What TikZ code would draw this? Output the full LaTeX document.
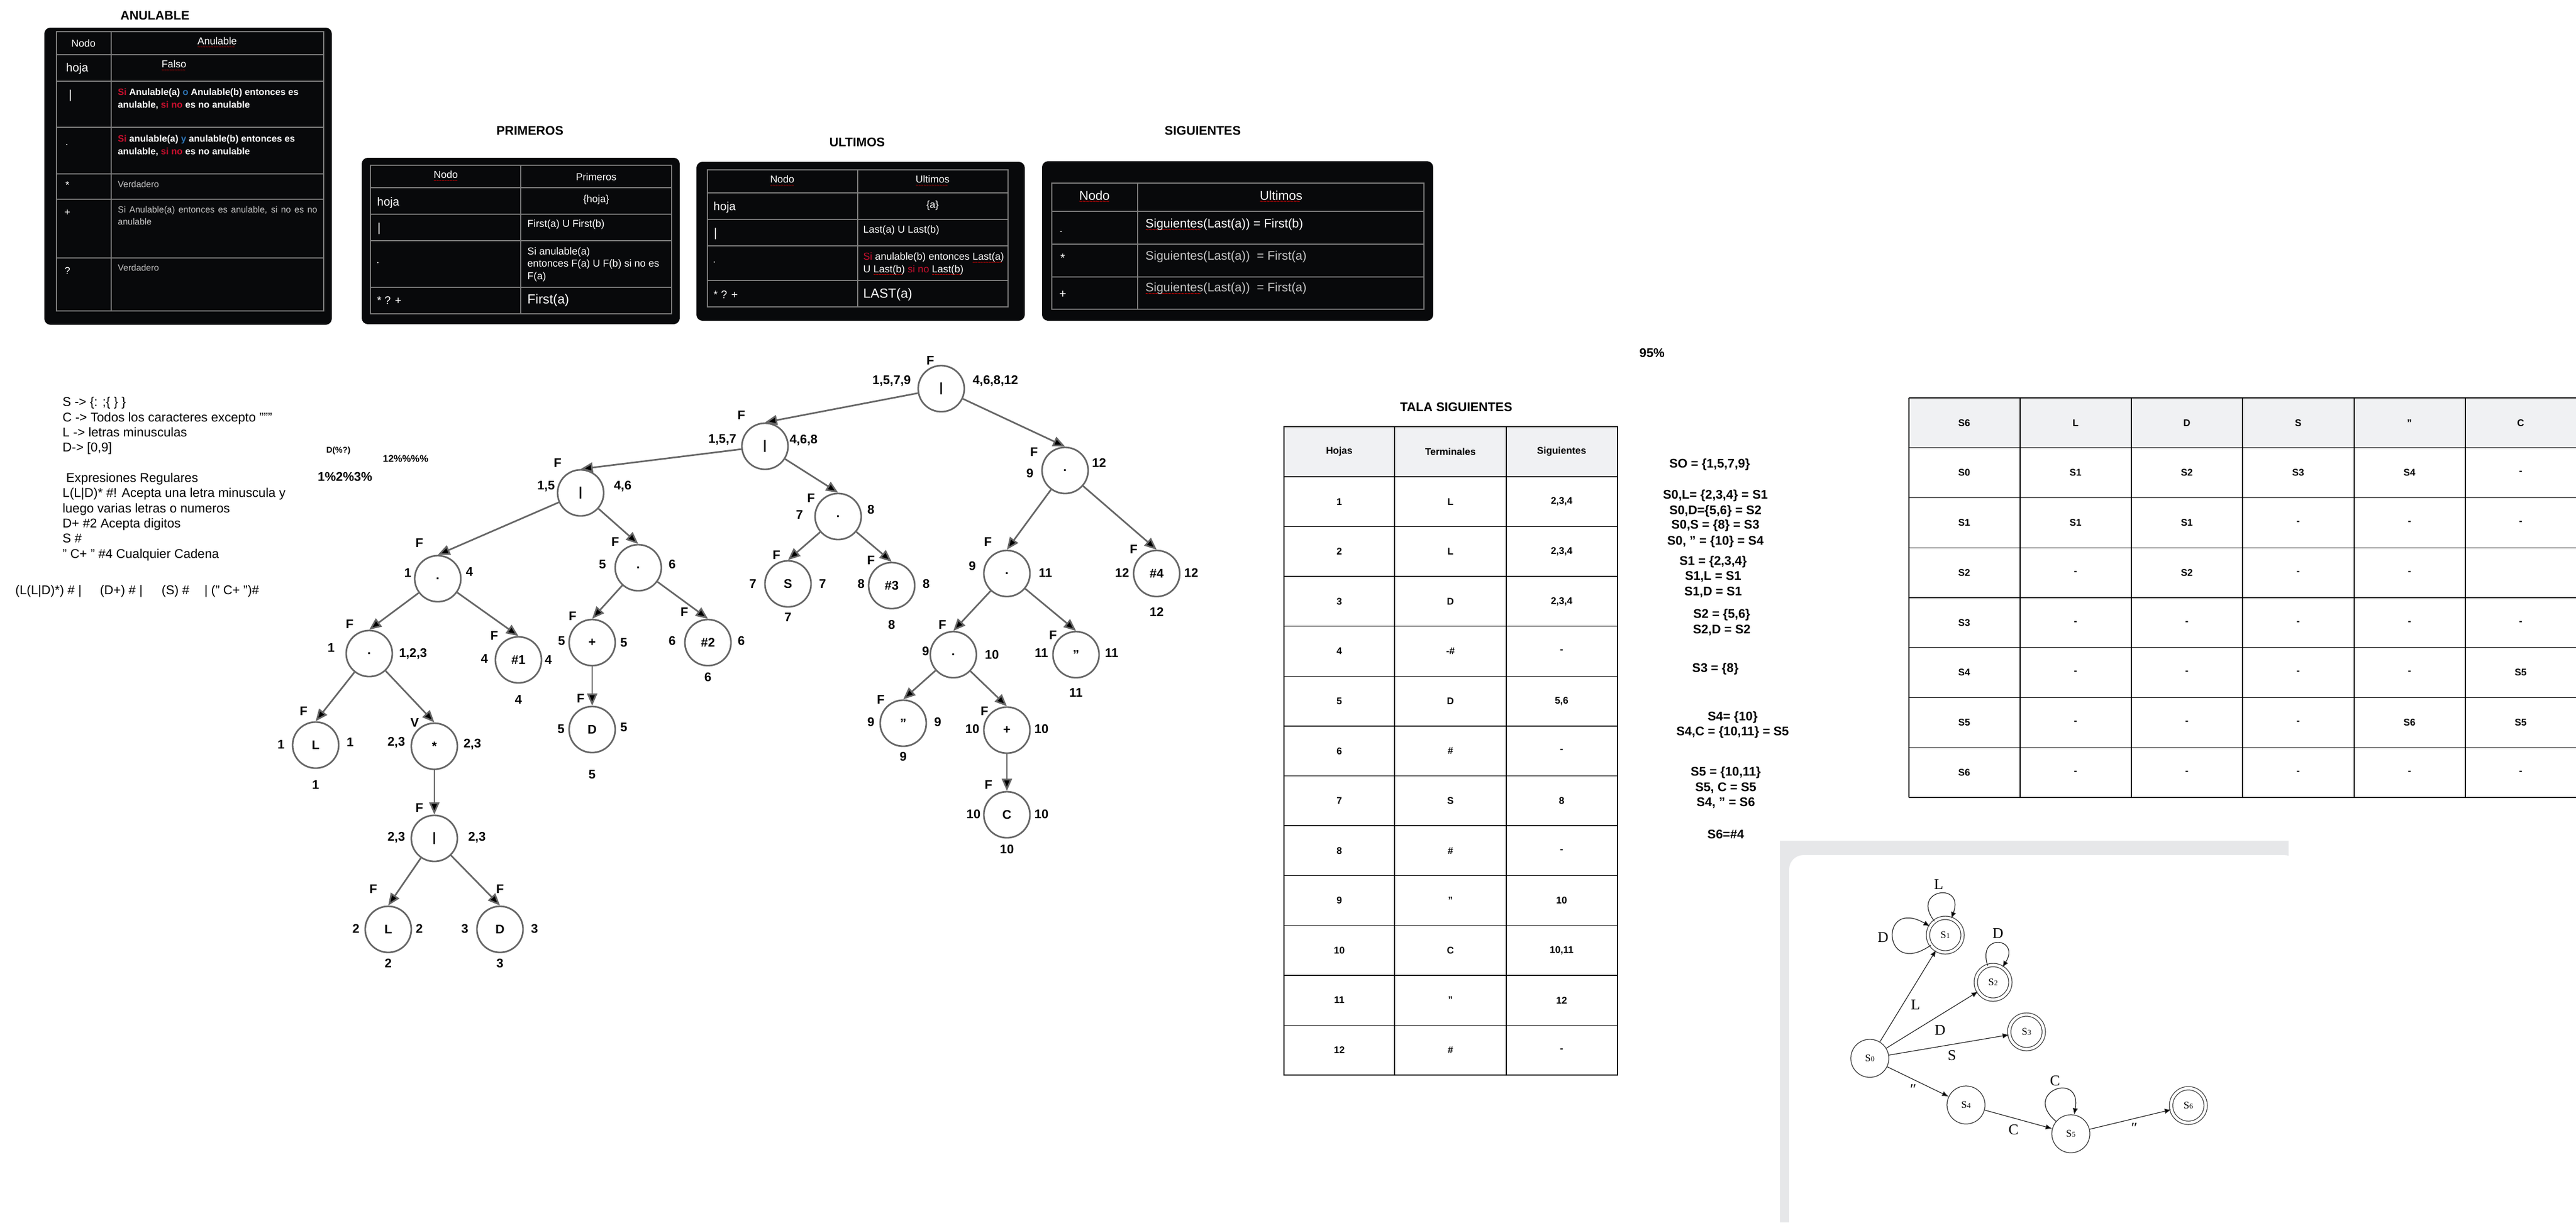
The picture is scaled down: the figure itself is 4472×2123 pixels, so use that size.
\documentclass[tikz,border=0pt]{standalone}
\usepackage{fontspec}
\setmainfont{Liberation Sans}
\newfontfamily\autfont{Liberation Serif}
\usetikzlibrary{arrows.meta}

\definecolor{panelbg}{HTML}{08090B}
\definecolor{gridgray}{HTML}{7C7C7C}
\definecolor{sired}{HTML}{C8102E}
\definecolor{oblue}{HTML}{2E75B6}
\definecolor{dimgray}{HTML}{C4C4C4}
\definecolor{edgegray}{HTML}{666666}
\definecolor{headgray}{HTML}{F0F1F3}
\definecolor{framegray}{HTML}{E6E7E9}

\newcommand\fs[2]{\fontsize{#1}{#2}\selectfont}
\newcommand\rd[1]{\textcolor{sired}{#1}}
\newcommand\sn[1]{S{\fs{3.6}{4}#1}}
\newsavebox\spellbox
\newcommand\spell[1]{\sbox\spellbox{#1}\rlap{\raisebox{-2.2pt}{\textcolor{red}{\leaders\hbox{\scalebox{0.45}[0.6]{\char"007E}}\hskip\wd\spellbox}}}\usebox\spellbox}

\begin{document}
\begin{tikzpicture}[x=0.01cm,y=-0.01cm]
\tikzstyle{vertex}=[circle,draw=edgegray,line width=0.8pt,minimum size=0.8cm,inner sep=0pt,font=\bfseries\fs{6.2}{7}]
\tikzstyle{lab}=[inner sep=0pt,font=\bfseries\fs{6.2}{7}]
\tikzstyle{txt}=[inner sep=0pt,font=\fs{6.3}{7.5}]
\tikzstyle{btxt}=[inner sep=0pt,font=\bfseries\fs{6.2}{7.5}]
\tikzstyle{tarrow}=[draw=edgegray,line width=0.8pt,-{Triangle[length=6pt,width=5pt]}]
\tikzstyle{panel}=[fill=panelbg,rounded corners=3pt]
\tikzstyle{dgrid}=[draw=gridgray,line width=0.6pt]
\tikzstyle{wcell}=[inner sep=0pt,text=white,font=\fs{5}{6}]
\tikzstyle{gcell}=[inner sep=0pt,text=dimgray,font=\fs{4.4}{5.7}]
\tikzstyle{lgrid}=[draw=black,line width=0.4pt]
\tikzstyle{tcell}=[inner sep=0pt,font=\bfseries\fs{4.8}{6}]
\tikzstyle{state}=[circle,draw=black!80,line width=0.35pt,minimum size=0.66cm,inner sep=0pt,font=\autfont\fs{5}{6}]
\tikzstyle{accept}=[state,double,double distance=1.3pt,minimum size=0.6cm]
\tikzstyle{trans}=[draw=black!85,line width=0.35pt,-{Latex[length=3.2pt,width=2.6pt]}]
\tikzstyle{tlab}=[inner sep=0pt,font=\autfont\fs{7.4}{8}]

\useasboundingbox (0,0) rectangle (4472,2123);

% ANULABLE
\node[btxt] (anultit) at (269,27) {ANULABLE};
\fill[panel] (77,48) rectangle (576,564);
\draw[dgrid] (98,55) rectangle (562,540) (193,55) -- (193,540);
\foreach \y in {95,141,221,302,346,448} \draw[dgrid] (98,\y) -- (562,\y);
\node[wcell] (an1) at (145,75) {Nodo};
\node[wcell] (an2) at (377,75) {\spell{Anulable}};
\node[wcell,anchor=west,font=\fs{5.8}{7}] (an3) at (114,119) {hoja};
\node[wcell] (an4) at (302,115) {\spell{Falso}};
\node[wcell,font=\fs{6}{7}] (an5) at (122,166) {|};
\node[wcell,anchor=base west,align=left,font=\bfseries\fs{4.6}{6}] (an6) at (204,187)
  {\rd{Si} Anulable(a) \textcolor{oblue}{o} Anulable(b) entonces es\\anulable, \rd{si no} es no anulable};
\node[wcell] (an7) at (116,252) {.};
\node[wcell,anchor=base west,align=left,font=\bfseries\fs{4.6}{6}] (an8) at (204,268)
  {\rd{Si} anulable(a) \textcolor{oblue}{y} anulable(b) entonces es\\anulable, \rd{si no} es no anulable};
\node[wcell] (an9) at (117,321) {*};
\node[gcell,anchor=west] (an10) at (204,320) {Verdadero};
\node[wcell] (an11) at (117,369) {+};
\node[gcell,anchor=base west,align=left] (an12) at (204,390)
  {\makebox[3.46cm][s]{Si Anulable(a) entonces es anulable, si no es no}\\anulable};
\node[wcell] (an13) at (117,470) {?};
\node[gcell,anchor=west] (an14) at (204,465) {Verdadero};

% PRIMEROS
\node[btxt] (primtit) at (920,227) {PRIMEROS};
\fill[panel] (628,274) rectangle (1180,563);
\draw[dgrid] (643,287) rectangle (1166,545) (904,287) -- (904,545);
\foreach \y in {326,372,418,499} \draw[dgrid] (643,\y) -- (1166,\y);
\node[wcell] (pr1) at (774,307) {\spell{Nodo}};
\node[wcell] (pr2) at (1035,307) {Primeros};
\node[wcell,anchor=west,font=\fs{5.8}{7}] (pr3) at (654,352) {hoja};
\node[wcell] (pr4) at (1035,347) {\{hoja\}};
\node[wcell,font=\fs{6}{7}] (pr5) at (658,397) {|};
\node[wcell,anchor=west] (pr6) at (915,390) {First(a) U First(b)};
\node[wcell] (pr7) at (656,457) {.};
\node[wcell,anchor=base west,align=left] (pr8) at (915,485) {Si anulable(a)\\entonces F(a) U F(b) si no es\\F(a)};
\node[wcell,anchor=west,font=\fs{5.5}{7}] (pr9) at (654,522) {* ? +};
\node[wcell,anchor=west,font=\fs{6.5}{8}] (pr10) at (915,522) {First(a)};

% ULTIMOS
\node[btxt] (ulttit) at (1488,247) {ULTIMOS};
\fill[panel] (1209,281) rectangle (1779,557);
\draw[dgrid] (1228,295) rectangle (1750,533) (1489,295) -- (1489,533);
\foreach \y in {335,381,427,487} \draw[dgrid] (1228,\y) -- (1750,\y);
\node[wcell] (ul1) at (1358,315) {\spell{Nodo}};
\node[wcell] (ul2) at (1619,315) {\spell{Ultimos}};
\node[wcell,anchor=west,font=\fs{5.8}{7}] (ul3) at (1238,360) {hoja};
\node[wcell] (ul4) at (1619,357) {\{a\}};
\node[wcell,font=\fs{6}{7}] (ul5) at (1242,406) {|};
\node[wcell,anchor=west] (ul6) at (1498,400) {Last(a) U Last(b)};
\node[wcell] (ul7) at (1240,456) {.};
\node[wcell,anchor=base west,align=left] (ul8) at (1498,473)
  {\rd{Si} anulable(b) entonces \spell{Last(a)}\\U \spell{Last(b)} \rd{si no} \spell{Last(b)}};
\node[wcell,anchor=west,font=\fs{5.5}{7}] (ul9) at (1238,512) {* ? +};
\node[wcell,anchor=west,font=\fs{6.5}{8}] (ul10) at (1498,512) {LAST(a)};

% SIGUIENTES
\node[btxt] (sigtit) at (2088,227) {SIGUIENTES};
\fill[panel] (1809,280) rectangle (2488,557);
\draw[dgrid] (1826,318) rectangle (2472,537) (1975,318) -- (1975,537);
\foreach \y in {367,424,481} \draw[dgrid] (1826,\y) -- (2472,\y);
\node[wcell,font=\fs{6.3}{7}] (sg1) at (1900,343) {\spell{Nodo}};
\node[wcell,font=\fs{6.3}{7}] (sg2) at (2224,343) {\spell{Ultimos}};
\node[wcell] (sg3) at (1842,403) {.};
\node[wcell,anchor=west,font=\fs{6.1}{7}] (sg4) at (1988,392) {\spell{Siguientes}(Last(a)) = First(b)};
\node[wcell,font=\fs{6}{7}] (sg5) at (1845,448) {*};
\node[gcell,anchor=west,font=\fs{6.1}{7}] (sg6) at (1988,446) {Siguientes(Last(a))\ \ = First(a)};
\node[wcell,font=\fs{6}{7}] (sg7) at (1845,511) {+};
\node[gcell,anchor=west,font=\fs{6.1}{7}] (sg8) at (1988,503) {\spell{Siguientes}(Last(a))\ \ = First(a)};

% gramatica
\node[txt,anchor=base west,align=left,font=\fs{6.3}{7.48}] (gram) at (108,969)
  {S -> \{: ;\{ \} \}\\C -> Todos los caracteres excepto """\\L -> letras minusculas\\D-> [0,9]\\[7.48pt]
   \ Expresiones Regulares\\L(L|D)* \#! Acepta una letra minuscula y\\luego varias letras o numeros\\D+ \#2 Acepta digitos\\S \#\\" C+ " \#4 Cualquier Cadena};
\node[txt,anchor=west] (regex) at (26,1027) {(L(L|D)*) \# |\hspace{0.32cm}(D+) \# |\hspace{0.33cm}(S) \#\hspace{0.26cm}| (" C+ ")\#};
\node[btxt,anchor=west,font=\bfseries\fs{4.1}{5}] (dpct) at (566,783) {D(\%?)};
\node[btxt,anchor=west,font=\bfseries\fs{4.8}{6}] (pcta) at (664,797) {12\%\%\%\%};
\node[btxt,anchor=west] (pctb) at (551,828) {1\%2\%3\%};
\node[btxt] (pctc) at (2868,613) {95\%};

% arbol
\node[vertex] (t1) at (1634,675) {|};
\node[vertex] (t2) at (1328,775) {|};
\node[vertex] (t3) at (1008,856) {|};
\node[vertex] (t4) at (760,1005) {.};
\node[vertex] (t5) at (641,1135) {.};
\node[vertex] (t6) at (548,1294) {L};
\node[vertex] (t7) at (754,1296) {*};
\node[vertex] (t8) at (754,1456) {|};
\node[vertex] (t9) at (674,1614) {L};
\node[vertex] (t10) at (868,1614) {D};
\node[vertex] (t11) at (900,1146) {\#1};
\node[vertex] (t12) at (1108,986) {.};
\node[vertex] (t13) at (1028,1116) {+};
\node[vertex] (t14) at (1028,1267) {D};
\node[vertex] (t15) at (1229,1116) {\#2};
\node[vertex] (t16) at (1455,897) {.};
\node[vertex] (t17) at (1368,1014) {S};
\node[vertex] (t18) at (1548,1017) {\#3};
\node[vertex] (t19) at (1849,817) {.};
\node[vertex] (t20) at (1748,996) {.};
\node[vertex] (t21) at (2008,996) {\#4};
\node[vertex] (t22) at (1655,1137) {.};
\node[vertex] (t23) at (1868,1137) {"};
\node[vertex] (t24) at (1568,1256) {"};
\node[vertex] (t25) at (1748,1268) {+};
\node[vertex] (t26) at (1748,1415) {C};
\path[tarrow]
  (t1) edge (t2.north)
  (t1) edge (t19.north)
  (t2) edge (t3.north)
  (t2) edge (t16.north)
  (t3) edge (t4.north)
  (t3) edge (t12.north)
  (t4) edge (t5.north)
  (t4) edge (t11.north)
  (t5) edge (t6.north)
  (t5) edge (t7.north)
  (t7) edge (t8.north)
  (t8) edge (t9.north)
  (t8) edge (t10.north)
  (t12) edge (t13.north)
  (t12) edge (t15.north)
  (t13) edge (t14.north)
  (t16) edge (t17.north)
  (t16) edge (t18.north)
  (t19) edge (t20.north)
  (t19) edge (t21.north)
  (t20) edge (t22.north)
  (t20) edge (t23.north)
  (t22) edge (t24.north)
  (t22) edge (t25.north)
  (t25) edge (t26.north);
\foreach \x/\y/\t [count=\i] in {
  1615/626/F, 1548/662/{1,5,7,9}, 1728/662/{4,6,8,12},
  1287/721/F, 1254/764/{1,5,7}, 1395/765/{4,6,8},
  968/804/F, 948/845/{1,5}, 1081/845/{4,6},
  728/943/F, 708/995/1, 815/993/4,
  607/1084/F, 575/1125/1, 717/1136/{1,2,3},
  527/1235/F, 488/1293/1, 608/1289/1, 548/1363/1,
  720/1255/V, 688/1290/{2,3}, 820/1293/{2,3},
  728/1403/F, 688/1455/{2,3}, 828/1455/{2,3},
  648/1544/F, 618/1613/2, 728/1613/2, 674/1673/2,
  868/1544/F, 807/1613/3, 928/1613/3, 868/1673/3,
  858/1104/F, 841/1144/4, 952/1146/4, 900/1215/4,
  1068/941/F, 1046/980/5, 1167/980/6,
  994/1070/F, 975/1113/5, 1083/1116/5,
  1008/1213/F, 974/1266/5, 1083/1263/5, 1028/1345/5,
  1188/1063/F, 1167/1113/6, 1287/1113/6, 1229/1176/6,
  1408/865/F, 1388/894/7, 1512/885/8,
  1348/964/F, 1307/1014/7, 1428/1014/7, 1368/1072/7,
  1512/973/F, 1495/1014/8, 1608/1014/8, 1548/1085/8,
  1795/785/F, 1788/822/9, 1908/804/12,
  1715/941/F, 1688/983/9, 1815/995/11,
  1968/954/F, 1948/995/12, 2068/995/12, 2008/1063/12,
  1636/1085/F, 1607/1131/9, 1722/1137/10,
  1828/1103/F, 1808/1134/11, 1930/1134/11, 1868/1203/11,
  1529/1215/F, 1512/1254/9, 1628/1254/9, 1568/1314/9,
  1709/1235/F, 1688/1266/10, 1808/1266/10,
  1716/1363/F, 1690/1414/10, 1808/1414/10, 1748/1475/10}
  \node[lab] (f\i) at (\x,\y) {\t};

% tabla de siguientes
\node[btxt] (talatit) at (2528,707) {TALA SIGUIENTES};
\fill[headgray] (2229,741) rectangle (2808,828);
\draw[lgrid] (2229,741) rectangle (2808,1867);
\foreach \x in {2421,2615} \draw[lgrid] (\x,741) -- (\x,1867);
\foreach \i in {0,...,11} \draw[lgrid] (2229,{828+86.58*\i}) -- (2808,{828+86.58*\i});
\node[tcell] (hh1) at (2325,784) {Hojas};
\node[tcell] (hh2) at (2518,784) {Terminales};
\node[tcell] (hh3) at (2711,784) {Siguientes};
\foreach \t/\s [count=\i] in {L/{2,3,4},L/{2,3,4},D/{2,3,4},-\#/-,D/{5,6},\#/-,S/8,\#/-,"/10,C/{10,11},"/12,\#/-} {
  \node[tcell] (ha\i) at (2325,{828+86.58*(\i-0.5)}) {\i};
  \node[tcell] (hb\i) at (2518,{828+86.58*(\i-0.5)}) {\t};
  \node[tcell] (hc\i) at (2711,{828+86.58*(\i-0.5)}) {\s};
}

% estados
\foreach \x/\y/\t [count=\i] in {
  2968/807/{SO = \{1,5,7,9\}},
  2978/861/{S0,L= \{2,3,4\} = S1},
  2978/888/{S0,D=\{5,6\} = S2},
  2978/913/{S0,S = \{8\} = S3},
  2978/941/{S0, " = \{10\} = S4},
  2974/976/{S1 = \{2,3,4\}},
  2974/1002/{S1,L = S1},
  2974/1029/{S1,D = S1},
  2989/1068/{S2 = \{5,6\}},
  2989/1095/{S2,D = S2},
  2978/1162/{S3 = \{8\}},
  3008/1246/{S4= \{10\}},
  3008/1272/{S4,C = \{10,11\} = S5},
  2996/1342/{S5 = \{10,11\}},
  2996/1369/{S5, C = S5},
  2996/1395/{S4, " = S6},
  2996/1449/{S6=\#4}}
  \node[btxt,font=\bfseries\fs{6.2}{7}] (st\i) at (\x,\y) {\t};

% tabla de transiciones
\fill[headgray] (3314,691) rectangle (4473,777);
\foreach \x in {3314,3507,3700,3893,4087,4280,4473} \draw[lgrid] (\x,691) -- (\x,1385);
\foreach \i in {0,...,8} \draw[lgrid] (3314,{691+86.75*\i}) -- (4473,{691+86.75*\i});
\foreach \row [count=\i from 0] in {{S6,L,D,S,",C},{S0,S1,S2,S3,S4,-},{S1,S1,S1,-,-,-},{S2,-,S2,-,-,{}},
    {S3,-,-,-,-,-},{S4,-,-,-,-,S5},{S5,-,-,-,S6,S5},{S6,-,-,-,-,-}}
  \foreach \c [count=\j] in \row
    \node[tcell] (q\i-\j) at ({3410+193.2*(\j-1)},{691+86.75*(\i+0.5)}) {\c};

% automata
\fill[framegray] (3090,1460) rectangle (3973,2123);
\fill[white,rounded corners=0.25cm] (3106,1485) rectangle (3990,2200);
\node[state] (s0) at (3246,1838) {\sn0};
\node[accept] (s1) at (3377,1624) {\sn1};
\node[accept] (s2) at (3460,1706) {\sn2};
\node[accept] (s3) at (3518,1792) {\sn3};
\node[state] (s4) at (3413,1919) {\sn4};
\node[state] (s5) at (3595,1969) {\sn5};
\node[accept] (s6) at (3799,1920) {\sn6};
\path[trans]
  (s0) edge node[tlab,pos=.47,shift={(16,10)}] {L} (s1)
  (s0) edge node[tlab,pos=.51,shift={(12,19)}] {D} (s2)
  (s0) edge node[tlab,pos=.51,shift={(3,19)}] {S} (s3)
  (s0) edge node[tlab,pos=.49,shift={(-7,14)}] {″} (s4)
  (s4) edge node[tlab,pos=.47,shift={(-5,19)}] {C} (s5)
  (s5) edge node[tlab,pos=.52,shift={(4,15)}] {″} (s6)
  (s1) edge[out=128,in=70,looseness=6] node[tlab,above=2pt] {L} (s1)
  (s1) edge[out=215,in=150,looseness=8] node[tlab,left=2pt] {D} (s1)
  (s2) edge[out=108,in=58,looseness=6] node[tlab,above=2pt] {D} (s2)
  (s5) edge[out=140,in=80,looseness=6] node[tlab,above=2pt] {C} (s5);
\end{tikzpicture}
\end{document}
